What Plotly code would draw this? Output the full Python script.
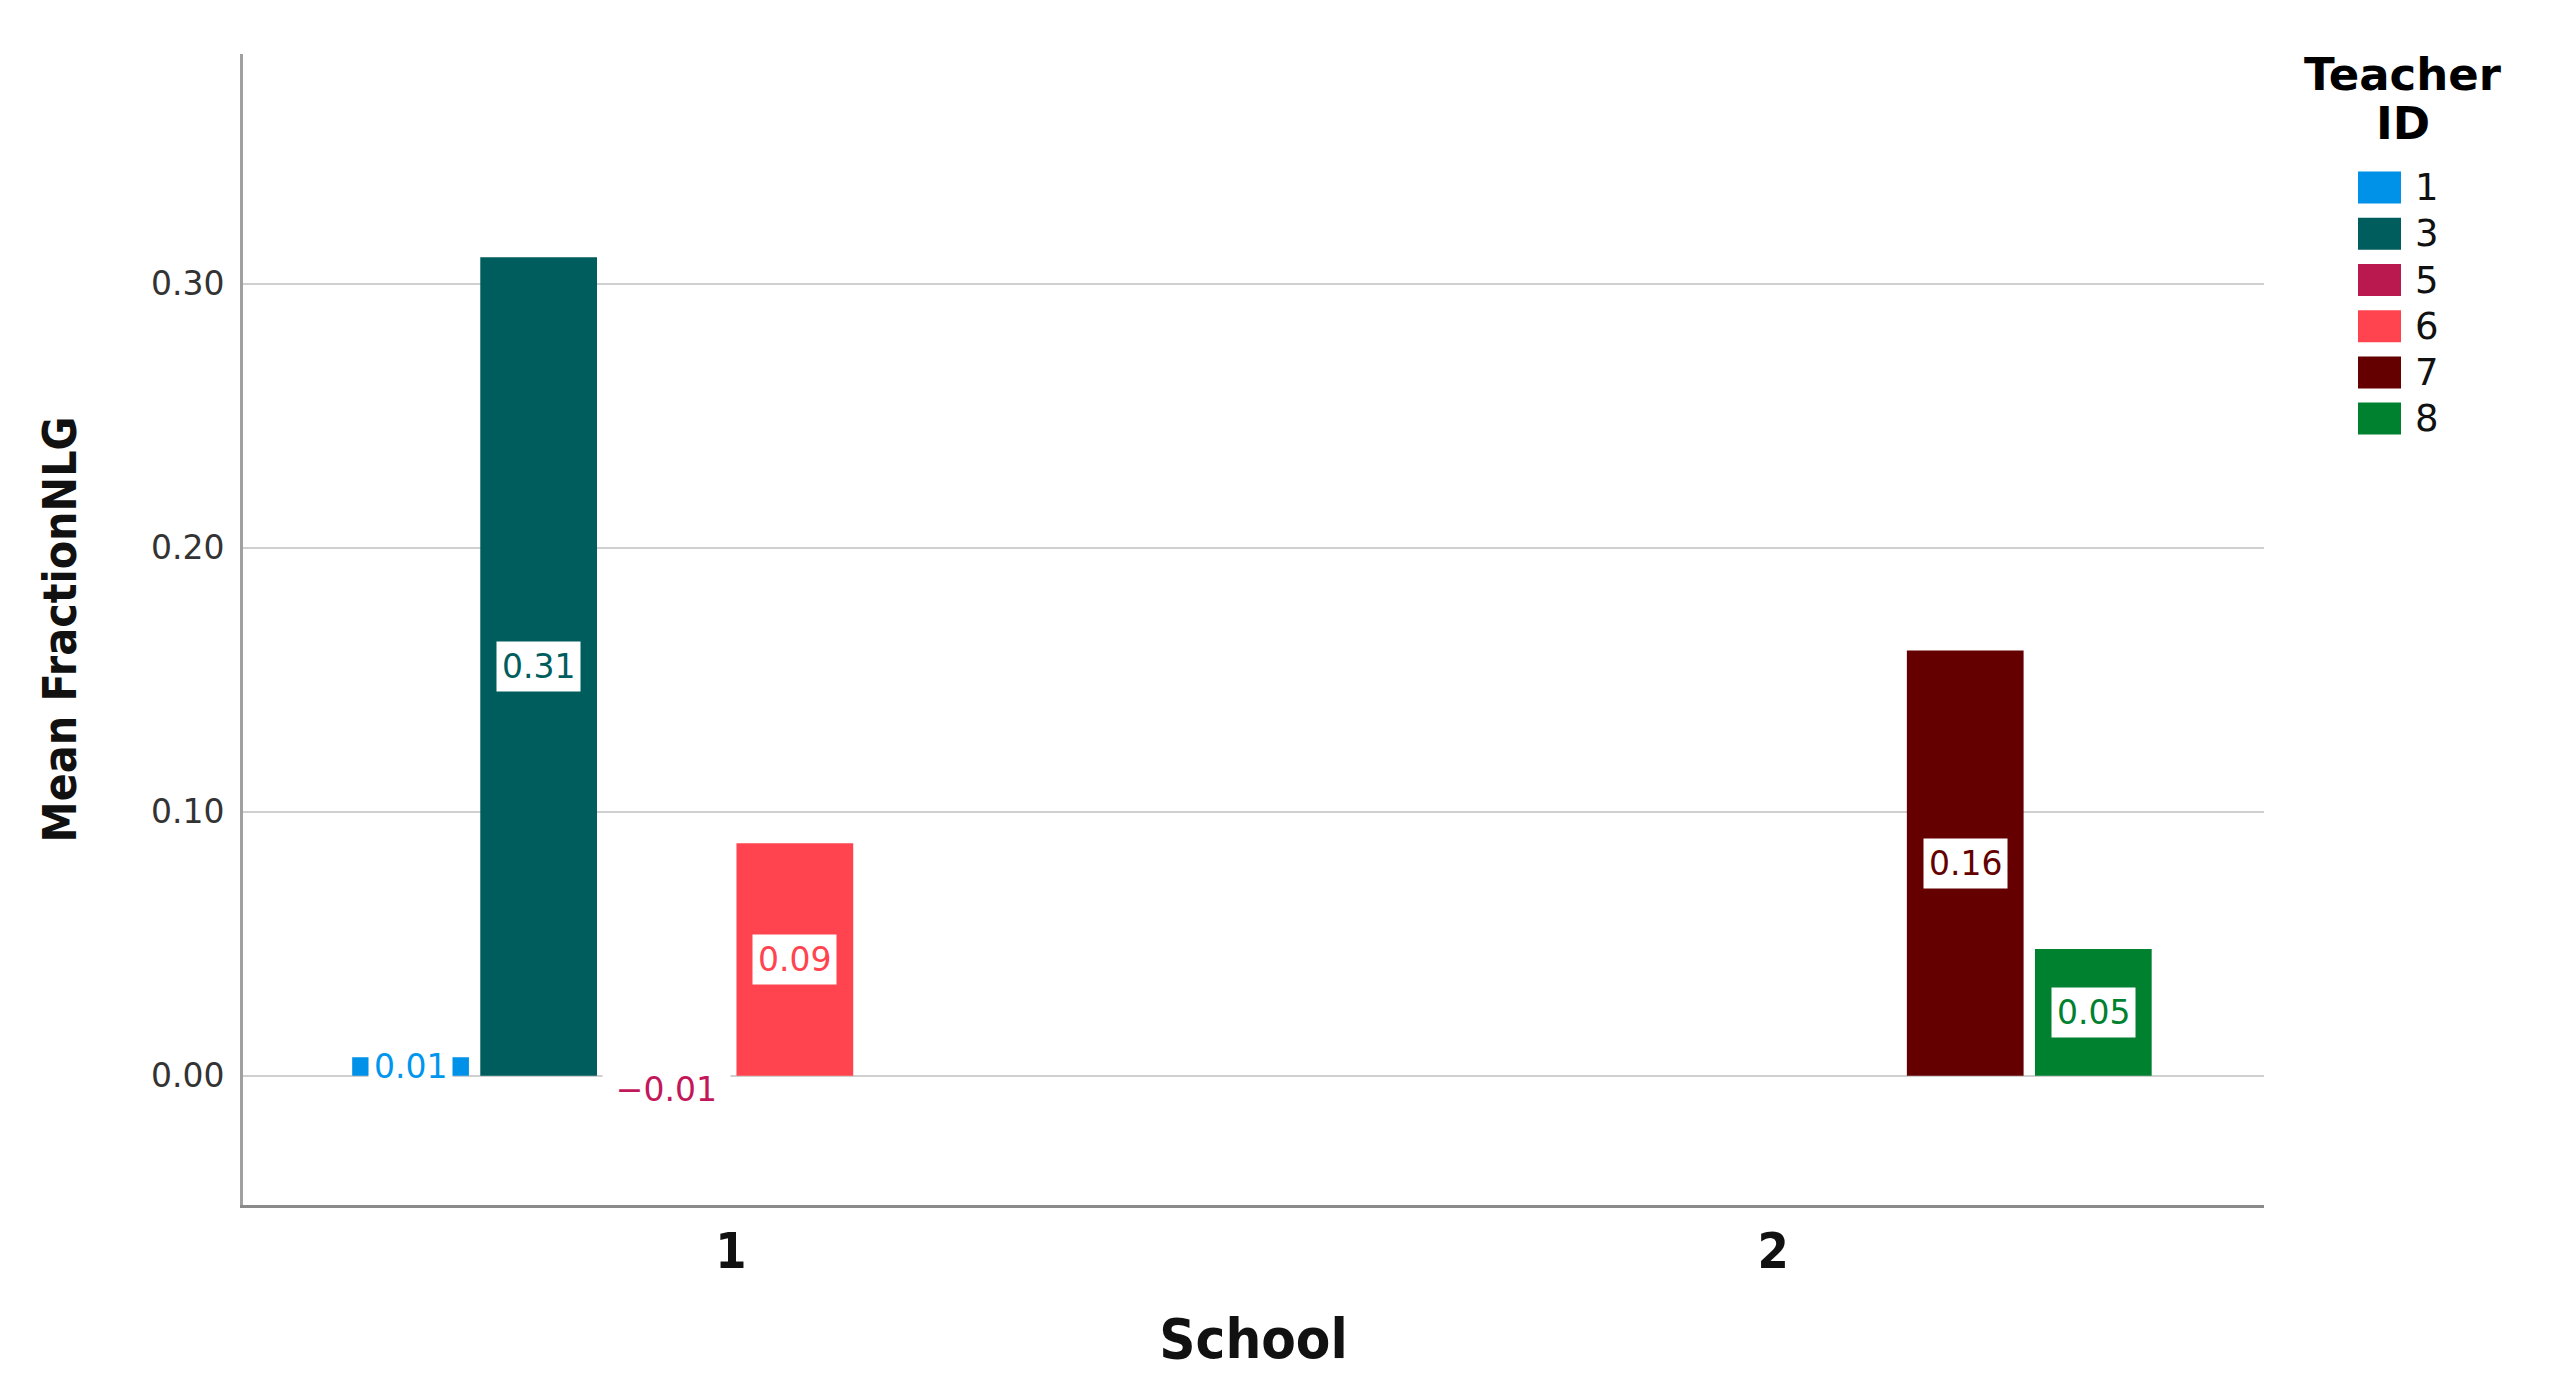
import plotly.graph_objects as go

# ---------------- data ----------------
schools = ["1", "2"]
teacher_ids = ["1", "3", "5", "6", "7", "8"]
t1_means = [0.007, None]
t3_means = [0.310, None]
t5_means = [-0.009, None]
t6_means = [0.088, None]
t7_means = [None, 0.161]
t8_means = [None, 0.048]
y_ticks = [0.0, 0.1, 0.2, 0.3]

series = [t1_means, t3_means, t5_means, t6_means, t7_means, t8_means]

# ---------------- styles ----------------
bar_colors = ["#0091E8", "#005D5D", "#B9194F", "#FF444F", "#640000", "#00812F"]
label_colors = ["#0096EE", "#005D5D", "#C2185B", "#FF444F", "#640000", "#00812F"]
label_full_width = [False, False, True, False, False, False]

slot = 0.1229          # spacing between bars in a group (x data units)
bar_w = 0.112          # width of each bar (x data units)
n = len(teacher_ids)
x_range = [-0.468, 1.471]

# screen geometry (page pixels) of plot area
L, T, PW, PH = 243, 54, 2021, 1151
OFF = 8  # body margin of the page
bar_px = bar_w * PW / (x_range[1] - x_range[0])


def px(xp):
    return (xp - L) / PW


def py(yp):
    return (T + PH - yp) / PH


fig = go.Figure()
annotations = []
for i, (tid, vals) in enumerate(zip(teacher_ids, series)):
    xs, ys = [], []
    for s, v in enumerate(vals):
        if v is None:
            continue
        x = s + (i - (n - 1) / 2) * slot
        xs.append(x)
        ys.append(v)
        ann = dict(
            x=x, y=v / 2, xref="x", yref="y",
            text=f"{v:.2f}".replace("-", "\u2212"), showarrow=False,
            bgcolor="white", borderpad=5,
            font=dict(family="DejaVu Sans", size=33, color=label_colors[i]),
        )
        if label_full_width[i]:
            ann["width"] = bar_px + 4
            ann["borderpad"] = 3
            ann["yshift"] = -2
        annotations.append(ann)
    fig.add_trace(go.Bar(
        x=xs, y=ys, width=bar_w, name=tid, showlegend=False,
        marker=dict(color=bar_colors[i], line=dict(width=0)),
    ))

# ---------------- custom legend ----------------
shapes = []
leg_y0, leg_step = 187.6, 46.2
for i, tid in enumerate(teacher_ids):
    yc = leg_y0 + i * leg_step
    shapes.append(dict(type="rect", xref="paper", yref="paper",
                       x0=px(2358), x1=px(2401), y0=py(yc + 16), y1=py(yc - 16),
                       fillcolor=bar_colors[i], line=dict(width=0)))
    annotations.append(dict(x=px(2413), y=py(yc), xref="paper", yref="paper",
                            xanchor="left", yanchor="middle", text=tid, showarrow=False,
                            font=dict(family="DejaVu Sans", size=37, color="#111111")))
annotations.append(dict(x=px(2403), y=py(75), xref="paper", yref="paper",
                        xanchor="center", yanchor="middle", text="<b>Teacher</b>",
                        showarrow=False,
                        font=dict(family="DejaVu Sans", size=45, color="#000000")))
annotations.append(dict(x=px(2403), y=py(123), xref="paper", yref="paper",
                        xanchor="center", yanchor="middle", text="<b>ID</b>",
                        showarrow=False,
                        font=dict(family="DejaVu Sans", size=45, color="#000000")))

fig.update_layout(
    width=2557 - 2 * OFF, height=1390 - 2 * OFF,
    margin=dict(l=L - OFF, t=T - OFF, r=2557 - 2 * OFF - (L - OFF) - PW,
                b=1390 - 2 * OFF - (T - OFF) - PH, pad=0),
    paper_bgcolor="white", plot_bgcolor="white",
    barmode="overlay",
    showlegend=False,
    shapes=shapes,
    annotations=annotations,
    xaxis=dict(
        range=x_range, tickmode="array", tickvals=list(range(len(schools))),
        ticktext=[f"<b>{s}</b>" for s in schools],
        showgrid=False, zeroline=False, showline=True, linecolor="#8a8a8a", linewidth=3,
        ticks="", tickfont=dict(family="DejaVu Sans Condensed", size=50, color="#111111"),
        ticklabelstandoff=0,
        title=dict(text="<b>School</b>", standoff=40,
                   font=dict(family="DejaVu Sans Condensed", size=56, color="#111111")),
        fixedrange=True,
    ),
    yaxis=dict(
        range=[-0.049, 0.387], tickmode="array", tickvals=y_ticks,
        tickformat=".2f",
        showgrid=True, gridcolor="#cfcfcf", gridwidth=2,
        zeroline=False, showline=True, linecolor="#a0a0a0", linewidth=3,
        ticks="", tickfont=dict(family="DejaVu Sans", size=33, color="#333333"),
        ticklabelstandoff=9,
        title=dict(text="<b>Mean FractionNLG</b>", standoff=60,
                   font=dict(family="DejaVu Sans Condensed", size=46, color="#111111")),
        fixedrange=True,
    ),
)

fig.write_html("out.html")
